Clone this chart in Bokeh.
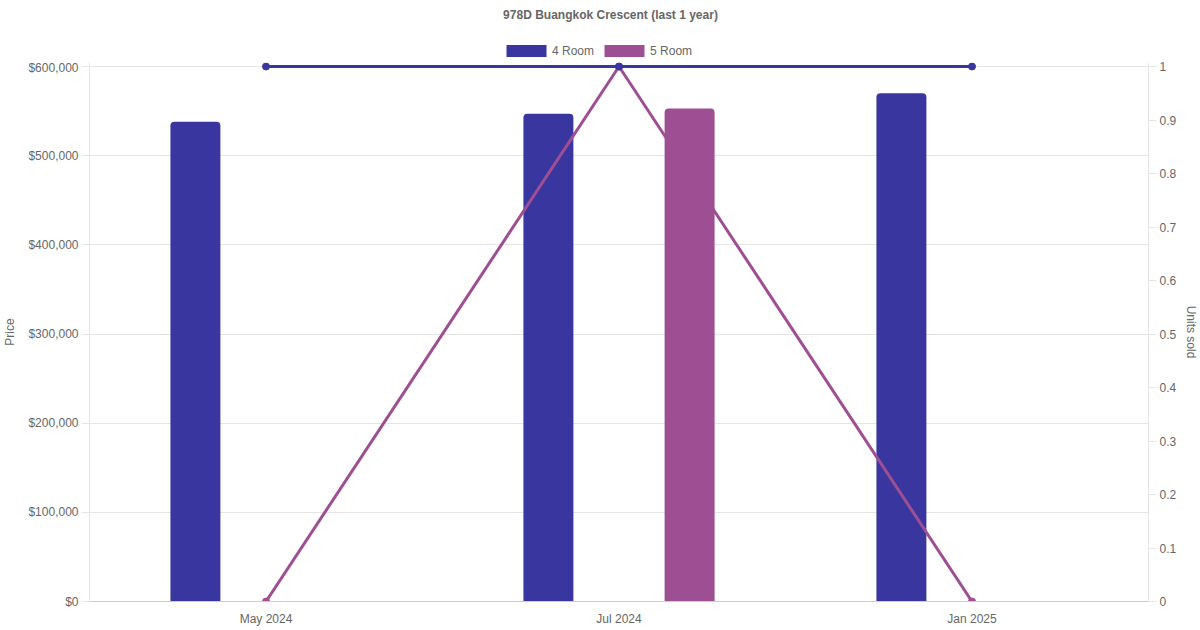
from bokeh.plotting import figure
from bokeh.layouts import column
from bokeh.models import (FactorRange, Range1d, LinearAxis, FixedTicker, NumeralTickFormatter,
                          CustomJSTickFormatter, Legend, LegendItem, ColumnDataSource)
from bokeh.transform import dodge
from bokeh.embed import file_html
from bokeh.resources import INLINE

months = ["May 2024", "Jul 2024", "Jan 2025"]
price_4room = [538000, 547000, 570000]
price_5room = [None, 553000, None]
units_4room = [1, 1, 1]
units_5room = [0, 1, 0]
series_names = ["4 Room", "5 Room"]
price_ticks = [0, 100000, 200000, 300000, 400000, 500000, 600000]
unit_ticks = [0, 0.1, 0.2, 0.3, 0.4, 0.5, 0.6, 0.7, 0.8, 0.9, 1]

C4 = "#3a36a0"
C5 = "#9e4f93"
TXT = "#666666"
FONT = "Liberation Sans"

src4 = ColumnDataSource(dict(x=[m for m, v in zip(months, price_4room) if v is not None],
                             top=[v for v in price_4room if v is not None]))
src5 = ColumnDataSource(dict(x=[m for m, v in zip(months, price_5room) if v is not None],
                             top=[v for v in price_5room if v is not None]))

W = 1184
TOP_H = 60
FW = 1059
TOP_PAD = 4          # extra pixels above the top tick so markers are not clipped
FH_TICKS = 535       # pixel height from $0 to $600,000
FH = FH_TICKS + TOP_PAD
ymax = price_ticks[-1] * FH / FH_TICKS
umax = unit_ticks[-1] * FH / FH_TICKS

# ---------- header: title + legend ----------
top = figure(width=W, height=TOP_H, x_range=FactorRange(*months), y_range=Range1d(0, 1),
             output_backend="svg", toolbar_location=None,
             min_border_left=0, min_border_right=0, min_border_bottom=0, min_border_top=8)
top.axis.visible = False
top.grid.visible = False
top.outline_line_color = None
top.title.text = "978D Buangkok Crescent (last 1 year)"
top.title.align = "center"
top.title.text_font = FONT
top.title.text_font_size = "12px"
top.title.text_font_style = "bold"
top.title.text_color = TXT
top.title.offset = 0
# legend-only renderers (hidden), sharing the chart's data
l4 = top.vbar(x="x", top="top", width=0.1, source=src4, fill_color=C4, line_color=None, visible=False)
l5 = top.vbar(x="x", top="top", width=0.1, source=src5, fill_color=C5, line_color=None, visible=False)
legend = Legend(items=[LegendItem(label=series_names[0], renderers=[l4]),
                       LegendItem(label=series_names[1], renderers=[l5])],
                orientation="horizontal", location=(412, 2),
                glyph_width=50, glyph_height=15, label_standoff=1, spacing=5,
                padding=0, margin=0, border_line_color=None, background_fill_alpha=0,
                inactive_fill_alpha=0,
                label_text_font=FONT, label_text_font_size="12px", label_text_color=TXT,
                label_height=12)
top.add_layout(legend, "center")

# ---------- main chart ----------
p = figure(width=W, frame_width=FW, frame_height=FH, x_range=FactorRange(*months, range_padding=0),
           y_range=Range1d(0, ymax), output_backend="svg", toolbar_location=None,
           min_border_left=80, min_border_right=45, min_border_top=2, min_border_bottom=25)
p.extra_y_ranges = {"units": Range1d(0, umax)}
p.outline_line_color = None
p.background_fill_color = "white"

p.vbar(x=dodge("x", -0.2, range=p.x_range), top="top", width=0.1416, source=src4,
       fill_color=C4, line_color=None, border_radius=(4, 4, 0, 0))
p.vbar(x=dodge("x", 0.2, range=p.x_range), top="top", width=0.1416, source=src5,
       fill_color=C5, line_color=None, border_radius=(4, 4, 0, 0))

p.line(months, units_5room, y_range_name="units", line_color=C5, line_width=3)
p.scatter(months, units_5room, y_range_name="units", fill_color=C5, line_color=C5, size=7)
p.line(months, units_4room, y_range_name="units", line_color=C4, line_width=3)
p.scatter(months, units_4room, y_range_name="units", fill_color=C4, line_color=C4, size=7)

ya = p.yaxis[0]
ya.ticker = FixedTicker(ticks=price_ticks)
ya.formatter = NumeralTickFormatter(format="$0,0")
ya.axis_label = "Price"

ra = LinearAxis(y_range_name="units", ticker=FixedTicker(ticks=unit_ticks),
                formatter=CustomJSTickFormatter(code="return tick.toString();"),
                axis_label="Units sold")
p.add_layout(ra, "right")

for ax in [ya, ra]:
    ax.axis_line_color = "#e5e5e5"
    ax.major_tick_line_color = "#e5e5e5"
    ax.major_tick_out = 8
    ax.major_tick_in = 0
    ax.minor_tick_line_color = None
    ax.major_label_text_font = FONT
    ax.major_label_text_font_size = "12px"
    ax.major_label_text_color = TXT
    ax.major_label_standoff = 3
    ax.axis_label_text_font = FONT
    ax.axis_label_text_font_size = "12px"
    ax.axis_label_text_font_style = "normal"
    ax.axis_label_text_color = TXT
ya.axis_label_standoff = 8
ra.axis_label_standoff = 5

xa = p.xaxis[0]
xa.axis_line_color = "#cccccc"
xa.major_tick_line_color = None
xa.minor_tick_line_color = None
xa.major_label_text_font = FONT
xa.major_label_text_font_size = "12px"
xa.major_label_text_color = TXT
xa.major_label_standoff = 4

p.xgrid.grid_line_color = None
p.ygrid.grid_line_color = "#e5e5e5"

layout = column(top, p, spacing=0)
open("out.html", "w").write(file_html(layout, INLINE))
